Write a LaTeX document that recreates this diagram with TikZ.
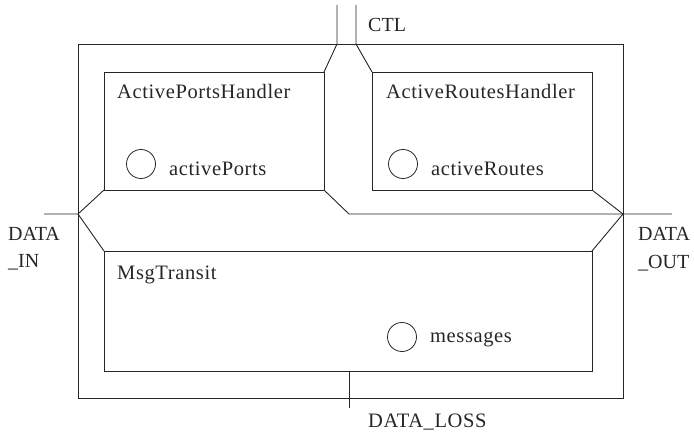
\documentclass[tikz,border=0pt]{standalone}
\usepackage{fontspec}
\setmainfont{Liberation Serif}
\newfontfamily\spacedserif[LetterSpace=3]{Liberation Serif}
\begin{document}
\begin{tikzpicture}[x=1pt,y=-1pt,
  line/.style={draw=black!85,line width=0.9pt},
  lbl/.style={anchor=base west,inner sep=0pt,font=\spacedserif\fontsize{20.5}{24}\selectfont,text=black!85},
  plbl/.style={anchor=base west,inner sep=0pt,font=\fontsize{20}{24}\selectfont,text=black!85},
  port/.style={circle,draw=black!85,line width=0.8pt,minimum size=29pt,inner sep=0pt}]
\useasboundingbox (0,0) rectangle (694,436);
% outer box
\draw[line] (78,44) rectangle (623,398);
% inner boxes
\draw[line] (104,72) rectangle (324,190);
\draw[line] (372,72) rectangle (592,190);
\draw[line] (104,251) rectangle (592,371);
% coordinates
\coordinate (inL) at (44,214);
\coordinate (inJ) at (78,214);
\coordinate (outJ) at (623,214);
\coordinate (outR) at (672,214);
\coordinate (ctlA) at (337,5);
\coordinate (ctlB) at (356,5);
\coordinate (lossB) at (349,408);
% channels
\draw[line] (inL) -- (inJ) -- (104,190);
\draw[line] (inJ) -- (104,251);
\draw[line] (324,190) -- (349,214) -- (outJ) -- (outR);
\draw[line] (592,190) -- (outJ) -- (592,251);
\draw[line] (ctlA) -- (337,44) -- (324,72);
\draw[line] (ctlB) -- (356,44) -- (372,72);
\draw[line] (349,371) -- (lossB);
% labels
\node[plbl] (ctl) at (368,32) {CTL};
\node[lbl] (aph) at (117,99) {ActivePortsHandler};
\node[lbl] (arh) at (386,99) {ActiveRoutesHandler};
\node[lbl] (mt) at (117,279) {MsgTransit};
\node[port] (c1) at (141,164) {};
\node[lbl] (ap) at (169,175) {activePorts};
\node[port] (c2) at (403,164) {};
\node[lbl] (ar) at (431,175) {activeRoutes};
\node[port] (c3) at (402,337) {};
\node[lbl] (ms) at (430,342) {messages};
\node[plbl] (din) at (8,240) {DATA};
\node[plbl] (din2) at (8,267) {\_IN};
\node[plbl] (dout) at (638,240) {DATA};
\node[plbl] (dout2) at (638,268) {\_OUT};
\node[lbl] (dl) at (368,427) {DATA\_LOSS};
\end{tikzpicture}
\end{document}
